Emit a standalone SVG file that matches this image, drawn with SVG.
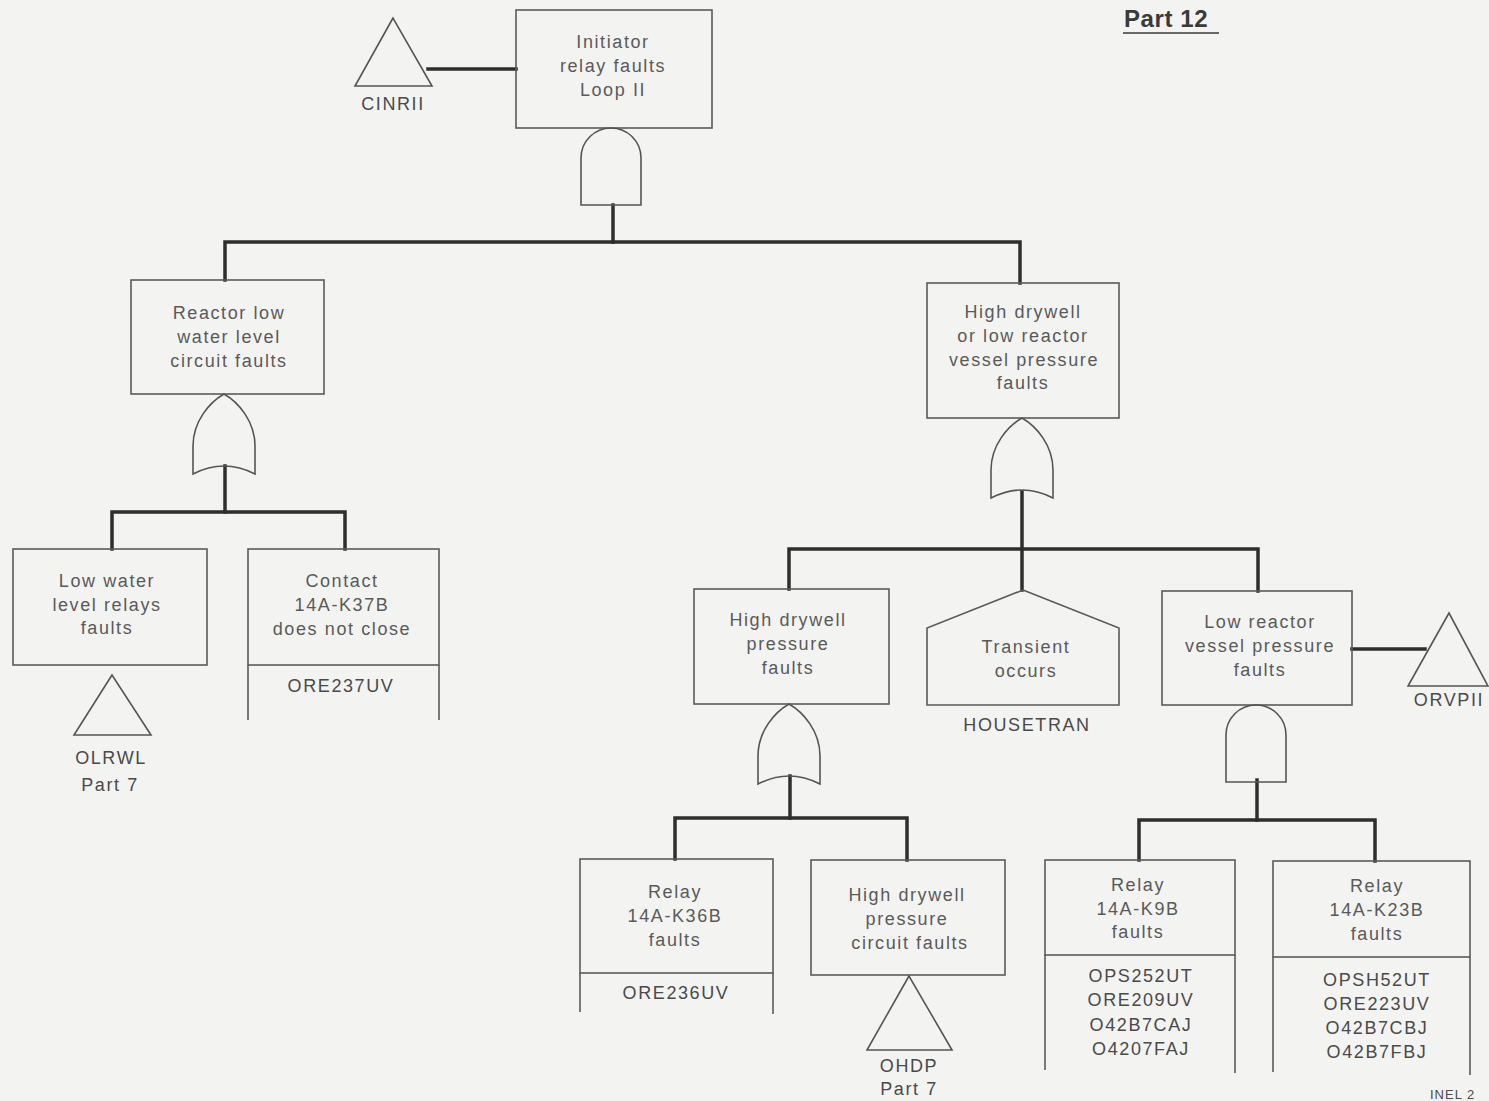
<svg xmlns="http://www.w3.org/2000/svg" width="1489" height="1101" viewBox="0 0 1489 1101">
  <style>
    .box { fill: none; stroke: #5a5a5a; stroke-width: 1.6; }
    .gate { fill: none; stroke: #555; stroke-width: 1.6; }
    .wire { fill: none; stroke: #2e2e2e; stroke-width: 3.5; stroke-linecap: square; }
    .t { font-family: "Liberation Sans", Arial, sans-serif; font-size: 18px; fill: #5a5a5a; text-anchor: middle; letter-spacing: 1.6px; }
    .lbl { font-family: "Liberation Sans", Arial, sans-serif; font-size: 18px; fill: #4a4a4a; text-anchor: middle; letter-spacing: 1.6px; }
    .title { font-family: "Liberation Sans", Arial, sans-serif; font-size: 24px; font-weight: bold; fill: #3a3a3a; letter-spacing: 0.6px; }
  </style>
  <defs>
    <!-- OR gate, origin at the apex -->
    <path id="orGate" class="gate" d="M-31,80 L-31,52 C-31,27 -14,8 0,0 C14,8 31,27 31,52 L31,80 Q0,64 -31,80 Z"/>
    <!-- AND gate, origin at the top of the dome -->
    <path id="andGate" class="gate" d="M-30,77 L-30,30 A30,30 0 0 1 30,30 L30,77 Z"/>
  </defs>

  <rect width="1489" height="1101" fill="#f3f3f1"/>

  <!-- page title -->
  <g id="title">
    <text class="title" x="1124" y="27">Part 12</text>
    <line x1="1123" y1="33" x2="1219" y2="33" stroke="#3a3a3a" stroke-width="1.6"/>
  </g>

  <!-- connectors -->
  <g id="connectors">
    <line class="wire" x1="428" y1="69" x2="516" y2="69"/>
    <line class="wire" x1="613" y1="205" x2="613" y2="242"/>
    <polyline class="wire" points="225,280 225,242 1020,242 1020,283"/>
    <line class="wire" x1="225" y1="466" x2="225" y2="512"/>
    <polyline class="wire" points="112,549 112,512 345,512 345,549"/>
    <line class="wire" x1="1022" y1="492" x2="1022" y2="590"/>
    <polyline class="wire" points="789,589 789,549 1258,549 1258,591"/>
    <line class="wire" x1="1352" y1="649" x2="1425" y2="649"/>
    <line class="wire" x1="790" y1="776" x2="790" y2="818"/>
    <polyline class="wire" points="675,859 675,818 907,818 907,860"/>
    <line class="wire" x1="1257" y1="780" x2="1257" y2="820"/>
    <polyline class="wire" points="1139,860 1139,820 1375,820 1375,861"/>
  </g>

  <!-- top event -->
  <g id="n-initiator">
    <rect class="box" x="516" y="10" width="196" height="118"/>
    <text class="t" x="613" y="48">Initiator</text>
    <text class="t" x="613" y="72">relay faults</text>
    <text class="t" x="613" y="96">Loop II</text>
    <use href="#andGate" x="611" y="128"/>
  </g>

  <g id="n-cinrii">
    <polygon class="gate" points="393,18 355,86 432,86"/>
    <text class="lbl" x="393" y="110">CINRII</text>
  </g>

  <g id="n-reactor-low">
    <rect class="box" x="131" y="280" width="193" height="114"/>
    <text class="t" x="229" y="319">Reactor low</text>
    <text class="t" x="229" y="343">water level</text>
    <text class="t" x="229" y="367">circuit faults</text>
    <use href="#orGate" x="224" y="394"/>
  </g>

  <g id="n-low-water">
    <rect class="box" x="13" y="549" width="194" height="116"/>
    <text class="t" x="107" y="587">Low water</text>
    <text class="t" x="107" y="611">level relays</text>
    <text class="t" x="107" y="634">faults</text>
  </g>

  <g id="n-olrwl">
    <polygon class="gate" points="112,675 74,735 151,735"/>
    <text class="lbl" x="111" y="764">OLRWL</text>
    <text class="lbl" x="110" y="791">Part 7</text>
  </g>

  <g id="n-contact">
    <rect class="box" x="248" y="549" width="191" height="116"/>
    <line class="box" x1="248" y1="665" x2="248" y2="720"/>
    <line class="box" x1="439" y1="665" x2="439" y2="720"/>
    <text class="t" x="342" y="587">Contact</text>
    <text class="t" x="342" y="611">14A-K37B</text>
    <text class="t" x="342" y="635">does not close</text>
    <text class="lbl" x="341" y="692">ORE237UV</text>
  </g>

  <g id="n-high-or-low">
    <rect class="box" x="927" y="283" width="192" height="135"/>
    <text class="t" x="1023" y="318">High drywell</text>
    <text class="t" x="1023" y="342">or low reactor</text>
    <text class="t" x="1024" y="366">vessel pressure</text>
    <text class="t" x="1023" y="389">faults</text>
    <use href="#orGate" x="1022" y="418"/>
  </g>

  <g id="n-high-drywell">
    <rect class="box" x="694" y="589" width="195" height="115"/>
    <text class="t" x="788" y="626">High drywell</text>
    <text class="t" x="788" y="650">pressure</text>
    <text class="t" x="788" y="674">faults</text>
    <use href="#orGate" x="789" y="704"/>
  </g>

  <g id="n-transient">
    <polygon class="box" points="1023,590 1119,628 1119,705 927,705 927,628"/>
    <text class="t" x="1026" y="653">Transient</text>
    <text class="t" x="1026" y="677">occurs</text>
    <text class="lbl" x="1027" y="731">HOUSETRAN</text>
  </g>

  <g id="n-low-reactor">
    <rect class="box" x="1162" y="591" width="190" height="114"/>
    <text class="t" x="1260" y="628">Low reactor</text>
    <text class="t" x="1260" y="652">vessel pressure</text>
    <text class="t" x="1260" y="676">faults</text>
    <use href="#andGate" x="1256" y="705"/>
  </g>

  <g id="n-orvpii">
    <polygon class="gate" points="1449,613 1408,686 1488,686"/>
    <text class="lbl" x="1449" y="706">ORVPII</text>
  </g>

  <g id="n-relay-k36b">
    <rect class="box" x="580" y="859" width="193" height="114"/>
    <line class="box" x1="580" y1="973" x2="580" y2="1012"/>
    <line class="box" x1="773" y1="973" x2="773" y2="1014"/>
    <text class="t" x="675" y="898">Relay</text>
    <text class="t" x="675" y="922">14A-K36B</text>
    <text class="t" x="675" y="946">faults</text>
    <text class="lbl" x="676" y="999">ORE236UV</text>
  </g>

  <g id="n-hd-circuit">
    <rect class="box" x="811" y="860" width="194" height="115"/>
    <text class="t" x="907" y="901">High drywell</text>
    <text class="t" x="907" y="925">pressure</text>
    <text class="t" x="910" y="949">circuit faults</text>
  </g>

  <g id="n-ohdp">
    <polygon class="gate" points="909,976 867,1050 952,1050"/>
    <text class="lbl" x="909" y="1072">OHDP</text>
    <text class="lbl" x="909" y="1095">Part 7</text>
  </g>

  <g id="n-relay-k9b">
    <rect class="box" x="1045" y="860" width="190" height="95"/>
    <line class="box" x1="1045" y1="955" x2="1045" y2="1070"/>
    <line class="box" x1="1235" y1="955" x2="1235" y2="1073"/>
    <text class="t" x="1138" y="891">Relay</text>
    <text class="t" x="1138" y="915">14A-K9B</text>
    <text class="t" x="1138" y="938">faults</text>
    <text class="lbl" x="1141" y="982">OPS252UT</text>
    <text class="lbl" x="1141" y="1006">ORE209UV</text>
    <text class="lbl" x="1141" y="1031">O42B7CAJ</text>
    <text class="lbl" x="1141" y="1055">O4207FAJ</text>
  </g>

  <g id="n-relay-k23b">
    <rect class="box" x="1273" y="861" width="197" height="96"/>
    <line class="box" x1="1273" y1="957" x2="1273" y2="1072"/>
    <line class="box" x1="1470" y1="957" x2="1470" y2="1075"/>
    <text class="t" x="1377" y="892">Relay</text>
    <text class="t" x="1377" y="916">14A-K23B</text>
    <text class="t" x="1377" y="940">faults</text>
    <text class="lbl" x="1377" y="986">OPSH52UT</text>
    <text class="lbl" x="1377" y="1010">ORE223UV</text>
    <text class="lbl" x="1377" y="1034">O42B7CBJ</text>
    <text class="lbl" x="1377" y="1058">O42B7FBJ</text>
  </g>

  <!-- figure number in the lower corner -->
  <text class="lbl" x="1430" y="1099" style="text-anchor:start;font-size:13px;letter-spacing:1px">INEL 2</text>
</svg>
